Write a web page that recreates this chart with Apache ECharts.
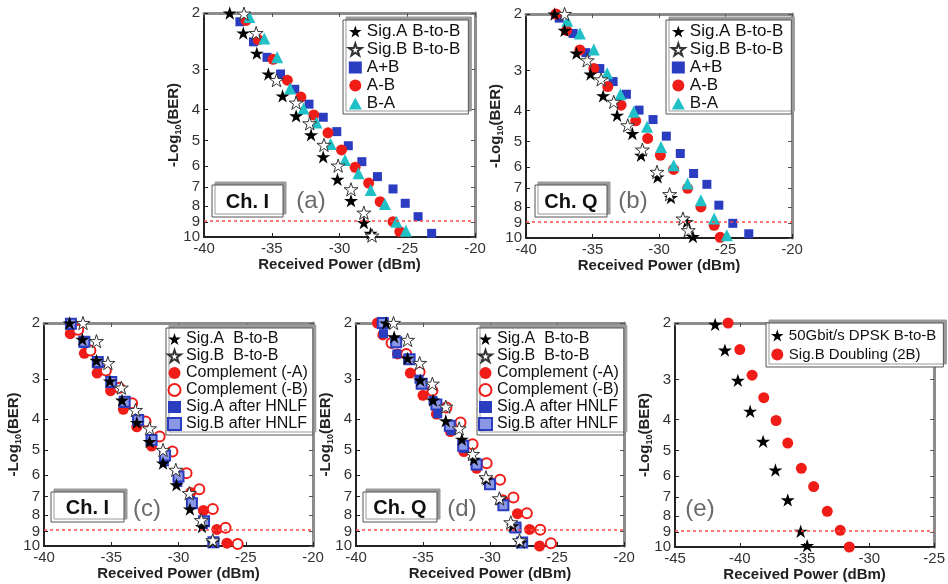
<!DOCTYPE html>
<html>
<head>
<meta charset="utf-8">
<script src="https://cdn.jsdelivr.net/npm/echarts@6/dist/echarts.min.js"></script>
<style>
  html, body { margin: 0; background: #fff; }
  #chart { width: 948px; height: 584px; }
</style>
</head>
<body>
<div id="chart"></div>
<script>
// -log10(BER) tick values and BER threshold
const Y_TICKS = [2, 3, 4, 5, 6, 7, 8, 9, 10];
const BER_LINE = 9;

// each point: [received power dBm, -log10(BER)]
// (a) Ch. I
const aSigA = [[-38.1,2.0],[-37.1,2.31],[-36.1,2.67],[-35.25,3.1],[-34.2,3.63],[-33.2,4.19],[-32.1,4.8],[-31.2,5.62],[-30.15,6.61],[-29.15,7.7],[-28.2,9.02],[-27.7,9.74]];
const aSigB = [[-37.05,2.01],[-36.15,2.31],[-34.65,3.24],[-33.2,3.81],[-32.2,4.42],[-31.15,5.16],[-30.1,5.99],[-29.15,7.1],[-28.2,8.4],[-27.6,9.9]];
const aSum  = [[-37.35,2.13],[-36.35,2.46],[-35.35,2.75],[-34.35,3.1],[-33.3,3.46],[-32.25,3.85],[-31.2,4.23],[-30.2,4.69],[-29.35,5.19],[-28.35,5.82],[-27.2,6.48],[-26.05,7.08],[-25.15,7.85],[-24.2,8.64],[-23.2,9.74]];
const aDiff = [[-36.9,2.11],[-36.0,2.42],[-34.9,2.79],[-33.85,3.24],[-32.85,3.66],[-31.9,4.16],[-30.85,4.73],[-29.85,5.35],[-28.85,6.06],[-27.85,6.79],[-27.0,7.76],[-26.05,8.96],[-25.55,9.62]];
const aRev  = [[-36.65,2.06],[-35.55,2.4],[-34.6,2.75],[-33.65,3.44],[-32.65,3.97],[-31.7,4.39],[-30.65,5.13],[-29.6,5.75],[-28.6,6.33],[-27.7,7.13],[-26.65,7.89],[-25.8,8.96],[-25.1,9.56]];

// (b) Ch. Q
const bSigA = [[-37.85,2.0],[-37.1,2.25],[-36.2,2.65],[-35.15,3.08],[-34.2,3.6],[-33.15,4.14],[-32.0,4.72],[-31.35,5.52],[-30.1,6.45],[-29.1,7.48],[-27.9,8.9],[-27.45,9.9]];
const bSigB = [[-37.1,2.0],[-35.4,2.79],[-34.35,3.2],[-33.4,3.76],[-32.35,4.45],[-31.25,5.3],[-30.15,6.22],[-29.2,7.3],[-28.2,8.7],[-27.8,9.46]];
const bSum  = [[-37.5,2.06],[-36.45,2.3],[-35.5,2.64],[-34.45,2.96],[-33.45,3.25],[-32.45,3.56],[-31.5,3.99],[-30.45,4.27],[-29.45,4.81],[-28.4,5.45],[-27.4,6.29],[-26.4,6.8],[-25.5,7.9],[-24.45,9.0],[-23.25,9.7]];
const bDiff = [[-37.75,2.0],[-36.95,2.25],[-35.95,2.59],[-34.9,2.96],[-33.85,3.37],[-32.85,3.85],[-31.75,4.31],[-30.85,4.89],[-29.9,5.52],[-28.9,6.11],[-27.85,7.0],[-26.85,8.0],[-25.85,9.13],[-25.4,9.95]];
const bRev  = [[-36.9,2.1],[-35.95,2.3],[-34.9,2.58],[-33.9,3.06],[-32.9,3.56],[-31.9,4.04],[-30.9,4.5],[-29.85,5.2],[-28.9,5.93],[-27.85,6.76],[-26.85,7.63],[-25.85,8.7],[-24.9,9.8]];

// (c) Ch. I
const cSigA  = [[-38.1,2.0],[-37.15,2.25],[-36.1,2.62],[-35.1,3.04],[-34.2,3.49],[-33.1,4.1],[-32.15,4.71],[-31.15,5.5],[-30.15,6.43],[-29.15,7.66],[-28.25,8.7],[-27.45,9.7]];
const cSigB  = [[-37.1,2.0],[-36.1,2.28],[-35.25,2.67],[-34.25,3.19],[-33.2,3.75],[-32.15,4.28],[-31.15,5.0],[-30.2,5.77],[-29.2,6.83],[-28.3,8.3],[-27.45,9.6]];
const cCompA = [[-38.05,2.16],[-37.0,2.49],[-36.05,2.87],[-35.05,3.26],[-34.1,3.73],[-33.1,4.23],[-32.0,4.86],[-29.95,6.09],[-29.1,6.8],[-28.15,7.74],[-27.15,8.87],[-26.4,9.8]];
const cCompB = [[-37.45,2.1],[-36.55,2.44],[-35.4,2.82],[-34.4,3.19],[-33.45,3.57],[-32.45,4.07],[-31.4,4.54],[-30.45,5.06],[-29.4,5.91],[-28.45,6.64],[-27.45,7.66],[-26.5,8.77],[-25.6,9.85]];
const cHnlfA = [[-38.1,2.03],[-37.05,2.32],[-36.05,2.69],[-35.05,3.1],[-34.1,3.57],[-33.1,4.07],[-32.1,4.71],[-31.05,5.45],[-30.05,6.32],[-29.1,7.2],[-28.15,8.57],[-27.5,9.74]];
const cHnlfB = [[-38.0,2.01],[-37.0,2.29],[-36.0,2.65],[-35.0,3.06],[-34.0,3.53],[-33.0,4.03],[-32.0,4.65],[-31.0,5.2],[-30.0,6.06],[-29.0,7.34],[-28.1,8.37],[-27.4,9.74]];

// (d) Ch. Q
const dSigA  = [[-37.75,2.0],[-37.15,2.21],[-36.15,2.58],[-35.2,3.02],[-34.25,3.49],[-33.3,4.05],[-32.1,4.63],[-31.2,5.35],[-30.25,6.18],[-29.25,7.13],[-28.3,8.64],[-27.7,9.74]];
const dSigB  = [[-37.2,2.0],[-36.15,2.26],[-35.25,2.67],[-34.3,3.1],[-33.3,3.66],[-32.3,4.28],[-31.3,5.15],[-30.3,6.09],[-29.3,7.09],[-28.45,8.43],[-27.8,9.6]];
const dCompA = [[-38.4,2.0],[-38.0,2.18],[-36.9,2.5],[-35.95,2.87],[-35.0,3.37],[-34.0,3.86],[-32.95,4.38],[-31.95,5.06],[-31.0,5.71],[-29.95,6.32],[-29.05,7.16],[-27.95,7.92],[-27.05,8.87],[-26.3,10.0]];
const dCompB = [[-37.35,2.31],[-36.25,2.5],[-35.25,2.85],[-34.3,3.26],[-33.25,3.68],[-32.2,4.1],[-31.3,4.8],[-30.25,5.5],[-29.25,6.2],[-28.25,7.05],[-27.25,7.9],[-26.25,8.9],[-25.45,9.8]];
const dHnlfA = [[-38.1,2.0],[-37.95,2.16],[-36.95,2.5],[-36.15,2.6],[-35.3,3.0],[-34.25,3.5],[-33.9,3.85],[-32.9,4.35],[-31.95,4.95],[-31.0,5.6],[-30.05,6.45],[-29.0,7.5],[-28.0,8.8],[-27.5,9.8]];
const dHnlfB = [[-38.0,2.0],[-37.0,2.3],[-36.0,2.6],[-35.1,3.1],[-34.0,3.6],[-33.0,4.2],[-32.0,4.85],[-31.0,5.55],[-30.0,6.4],[-29.0,7.45],[-28.1,8.75],[-27.6,9.75]];

// (e)
const eDpsk     = [[-41.9,2.02],[-41.15,2.43],[-40.15,3.02],[-39.2,3.77],[-38.2,4.68],[-37.25,5.75],[-36.3,7.13],[-35.3,8.93],[-34.8,9.9]];
const eDoubling = [[-40.9,2.0],[-40.0,2.42],[-39.05,2.91],[-38.15,3.42],[-37.2,4.03],[-36.3,4.74],[-35.25,5.68],[-34.3,6.48],[-33.25,7.74],[-32.25,8.87],[-31.55,10.0]];

const FONT = '"Liberation Sans", Arial, sans-serif';
const STAR = 'path://M50 0L61.2 34.5L97.6 34.5L68.2 55.9L79.4 90.5L50 69.1L20.6 90.5L31.8 55.9L2.4 34.5L38.8 34.5Z';

const STYLE = {
  starFill:    { symbol: STAR, symbolSize: 14, itemStyle: { color: '#000', opacity: 1 } },
  starOpen:    { symbol: STAR, symbolSize: 14, itemStyle: { color: '#fff', borderColor: '#333', borderWidth: 1, opacity: 1 } },
  squareBlue:  { symbol: 'rect', symbolSize: 9, itemStyle: { color: '#2a3cc0', opacity: 1 } },
  squareLight: { symbol: 'rect', symbolSize: 10, itemStyle: { color: '#8a96e6', borderColor: '#2a3cc0', borderWidth: 2, opacity: 1 } },
  dotRed:      { symbol: 'circle', symbolSize: 11, itemStyle: { color: '#f01c18', opacity: 1 } },
  ringRed:     { symbol: 'circle', symbolSize: 10, itemStyle: { color: '#fff', borderColor: '#f01c18', borderWidth: 2, opacity: 1 } },
  triCyan:     { symbol: 'triangle', symbolSize: 12, itemStyle: { color: '#1fc0c6', opacity: 1 } }
};

const panels = [
  { key: 'a', grid: { left: 204, top: 13, width: 271, height: 224 }, xMin: -40, xMax: -20,
    legend: { left: 343, top: 20, font: 17, lh: 17, gap: 1, pad: [3, 8, 2, 5], textGap: 5 },
    series: [['Sig.A B-to-B', aSigA, 'starFill'], ['Sig.B B-to-B', aSigB, 'starOpen'], ['A+B', aSum, 'squareBlue'], ['A-B', aDiff, 'dotRed'], ['B-A', aRev, 'triCyan']],
    tag: 'Ch. I', box: [212, 185, 71, 32], letter: '(a)', letterAt: [311, 201] },
  { key: 'b', grid: { left: 526, top: 14, width: 266, height: 224 }, xMin: -40, xMax: -20,
    legend: { left: 666, top: 20, font: 17, lh: 17, gap: 1, pad: [3, 8, 2, 5], textGap: 5 },
    series: [['Sig.A B-to-B', bSigA, 'starFill'], ['Sig.B B-to-B', bSigB, 'starOpen'], ['A+B', bSum, 'squareBlue'], ['A-B', bDiff, 'dotRed'], ['B-A', bRev, 'triCyan']],
    tag: 'Ch. Q', box: [535, 185, 72, 32], letter: '(b)', letterAt: [633, 201] },
  { key: 'c', grid: { left: 44, top: 323, width: 269, height: 223 }, xMin: -40, xMax: -20,
    legend: { left: 166, top: 328, font: 16, lh: 16, gap: 1, pad: [3, 5, 3, 1], textGap: 3 },
    series: [['Sig.A  B-to-B', cSigA, 'starFill'], ['Sig.B  B-to-B', cSigB, 'starOpen'], ['Complement (-A)', cCompA, 'dotRed'], ['Complement (-B)', cCompB, 'ringRed'], ['Sig.A after HNLF', cHnlfA, 'squareBlue'], ['Sig.B after HNLF', cHnlfB, 'squareLight']],
    tag: 'Ch. I', box: [51, 492, 73, 30], letter: '(c)', letterAt: [147, 509] },
  { key: 'd', grid: { left: 356, top: 323, width: 268, height: 223 }, xMin: -40, xMax: -20,
    legend: { left: 477, top: 328, font: 16, lh: 16, gap: 1, pad: [3, 5, 3, 1], textGap: 3 },
    series: [['Sig.A  B-to-B', dSigA, 'starFill'], ['Sig.B  B-to-B', dSigB, 'starOpen'], ['Complement (-A)', dCompA, 'dotRed'], ['Complement (-B)', dCompB, 'ringRed'], ['Sig.A after HNLF', dHnlfA, 'squareBlue'], ['Sig.B after HNLF', dHnlfB, 'squareLight']],
    tag: 'Ch. Q', box: [363, 492, 74, 30], letter: '(d)', letterAt: [462, 509] },
  { key: 'e', grid: { left: 675, top: 323, width: 272, height: 224 }, xMin: -45, xMax: -25,
    legend: { left: 766, top: 323, font: 15, lh: 17, gap: 2, pad: [4, 7, 4, 5], textGap: 2 },
    series: [['50Gbit/s DPSK B-to-B', eDpsk, 'starFill'], ['Sig.B Doubling (2B)', eDoubling, 'dotRed']],
    tag: null, letter: '(e)', letterAt: [700, 509] }
];

const yTickPos = Y_TICKS.map(v => Math.log10(v));
// the last label sits too close to the one above it for echarts' overlap check,
// so it goes on its own axis
const yLabelPos = yTickPos.slice(0, -1);
const yLastPos = yTickPos.slice(-1);
const frameGray = '#8c8c8c';
const tickLabel = { margin: 4, interval: 0, fontFamily: FONT, fontSize: 15, color: '#333',
  showMinLabel: true, showMaxLabel: true, hideOverlap: false,
  formatter: v => String(Math.round(Math.pow(10, v))) };

const option = { animation: false, grid: [], xAxis: [], yAxis: [], series: [], legend: [], graphic: [] };

panels.forEach((p, i) => {
  option.grid.push(Object.assign({ show: false }, p.grid));

  const xBase = { type: 'value', gridIndex: i, min: p.xMin, max: p.xMax, interval: 5, splitLine: { show: false } };
  option.xAxis.push(Object.assign({}, xBase, {
    position: 'bottom',
    name: 'Received Power (dBm)', nameLocation: 'middle', nameGap: 20,
    nameTextStyle: { fontFamily: FONT, fontWeight: 'bold', fontSize: 15, color: '#222' },
    axisLine: { onZero: false, lineStyle: { color: '#222', width: 2 } },
    axisTick: { inside: true, length: 4, lineStyle: { color: '#222' } },
    axisLabel: { margin: 4, fontFamily: FONT, fontSize: 15, color: '#333', showMinLabel: true, showMaxLabel: true, hideOverlap: false }
  }));
  option.xAxis.push(Object.assign({}, xBase, {
    position: 'top',
    axisLine: { onZero: false, lineStyle: { color: frameGray, width: 3 } },
    axisTick: { inside: true, length: 4, lineStyle: { color: '#555' } },
    axisLabel: { show: false }
  }));

  const yBase = { type: 'value', gridIndex: i, min: Math.log10(2), max: 1, inverse: true, splitLine: { show: false } };
  option.yAxis.push(Object.assign({}, yBase, {
    position: 'left',
    name: '{b|-Log}{s|10}{b|(BER)}', nameLocation: 'middle', nameGap: 21,
    nameTextStyle: {
      rich: {
        b: { fontFamily: FONT, fontWeight: 'bold', fontSize: 15, color: '#222', lineHeight: 18 },
        s: { fontFamily: FONT, fontWeight: 'bold', fontSize: 9, color: '#222', lineHeight: 9, verticalAlign: 'bottom' }
      }
    },
    axisLine: { onZero: false, lineStyle: { color: '#222', width: 2 } },
    axisTick: { inside: true, length: 4, customValues: yTickPos, lineStyle: { color: '#222' } },
    axisLabel: Object.assign({ customValues: yLabelPos }, tickLabel)
  }));
  option.yAxis.push(Object.assign({}, yBase, {
    position: 'right',
    axisLine: { onZero: false, lineStyle: { color: frameGray, width: 3 } },
    axisTick: { inside: true, length: 4, customValues: yTickPos, lineStyle: { color: '#555' } },
    axisLabel: { show: false }
  }));
  option.yAxis.push(Object.assign({}, yBase, {
    position: 'left',
    axisLine: { show: false },
    axisTick: { show: false },
    axisLabel: Object.assign({ customValues: yLastPos }, tickLabel)
  }));

  const names = [];
  // draw stars last so they sit on top
  const order = p.series.slice().sort((s1, s2) => (s1[2].startsWith('star') ? 1 : 0) - (s2[2].startsWith('star') ? 1 : 0));
  order.forEach(([label, pts, styleKey], k) => {
    const st = STYLE[styleKey];
    const s = {
      name: label + '#' + p.key,
      type: 'scatter',
      xAxisIndex: 2 * i,
      yAxisIndex: 3 * i,
      clip: false,
      symbol: st.symbol,
      symbolSize: st.symbolSize,
      symbolKeepAspect: true,
      itemStyle: st.itemStyle,
      data: pts.map(d => [d[0], Math.log10(d[1])])
    };
    if (k === 0) {
      s.markLine = {
        silent: true, symbol: 'none', label: { show: false },
        lineStyle: { color: '#ff4a4a', type: [3, 3], width: 1.5, opacity: 1 },
        data: [{ yAxis: Math.log10(BER_LINE) }]
      };
    }
    option.series.push(s);
  });
  p.series.forEach(([label]) => names.push(label + '#' + p.key));

  const L = p.legend;
  option.legend.push({
    orient: 'vertical', left: L.left, top: L.top,
    data: names, selectedMode: false,
    formatter: n => n.split('#')[0],
    itemWidth: 13, itemHeight: 12, itemGap: L.gap, itemTextGap: L.textGap,
    padding: L.pad,
    textStyle: { fontFamily: FONT, fontSize: L.font, lineHeight: L.lh, color: '#111' },
    backgroundColor: '#fff', borderColor: '#555', borderWidth: 1,
    shadowColor: '#9a9a9a', shadowOffsetX: 3, shadowOffsetY: -3, shadowBlur: 0
  });

  if (p.tag) {
    const [bx, by, bw, bh] = p.box;
    option.graphic.push({
      type: 'rect', z: 20, shape: { x: bx, y: by, width: bw, height: bh },
      style: { fill: '#fff', stroke: '#555', lineWidth: 1, shadowColor: '#9a9a9a', shadowOffsetX: 3, shadowOffsetY: -3, shadowBlur: 0 }
    });
    option.graphic.push({
      type: 'text', z: 21, x: bx + bw / 2, y: by + bh / 2 + 1,
      style: { text: p.tag, font: 'bold 20px ' + FONT, fill: '#111', align: 'center', verticalAlign: 'middle' }
    });
  }
  option.graphic.push({
    type: 'text', z: 21, x: p.letterAt[0], y: p.letterAt[1],
    style: { text: p.letter, font: '24px ' + FONT, fill: '#6a6a6a', align: 'center', verticalAlign: 'middle' }
  });
});

const chart = echarts.init(document.getElementById('chart'), null, { renderer: 'canvas' });
chart.setOption(option);
</script>
</body>
</html>
